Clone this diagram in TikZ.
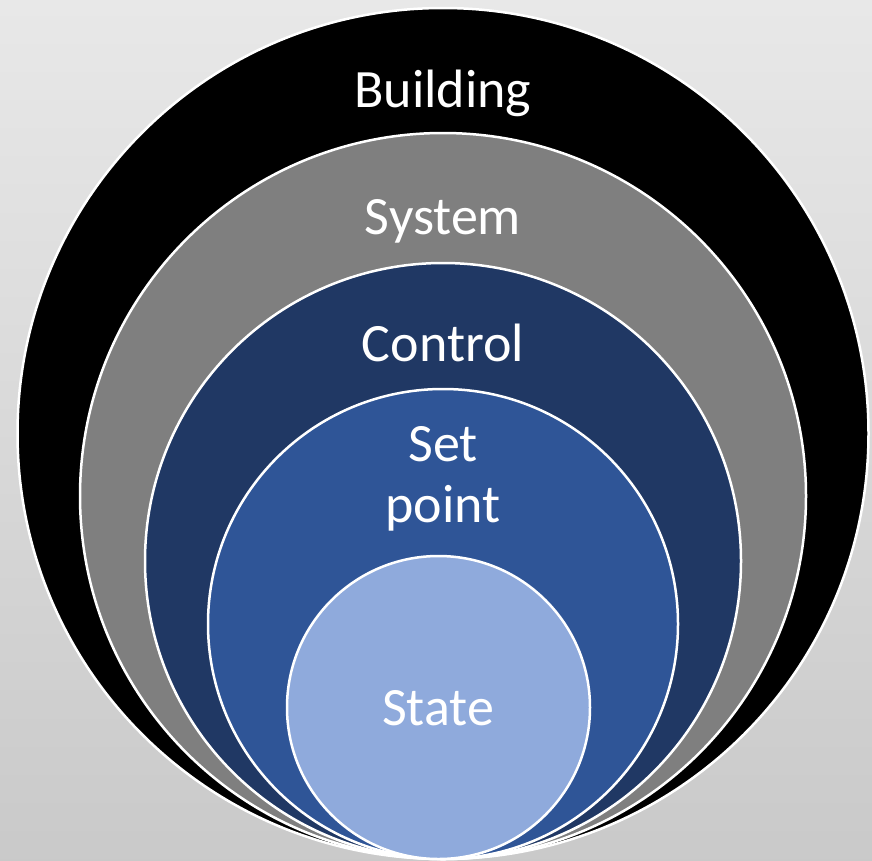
\documentclass[tikz,border=0pt]{standalone}
\usepackage{fontspec}
\setmainfont{Carlito}
\usepackage{tikz}
\usetikzlibrary{shapes,positioning}
\usepackage{xcolor}
\definecolor{sysgrey}{HTML}{7F7F7F}
\definecolor{ctrlblue}{HTML}{203864}
\definecolor{spblue}{HTML}{2F5597}
\definecolor{stateblue}{HTML}{8FAADC}
\tikzstyle{ring} = [circle, draw=white, line width=2.5pt, inner sep=0pt]
\tikzstyle{lbl} = [text=white, anchor=base, align=center, font=\fontsize{54}{61}\selectfont]

\begin{document}
\begin{tikzpicture}[x=1pt, y=-1pt]
    % Background
    \useasboundingbox (0,0) rectangle (872,860);
    \shade[top color=black!9, bottom color=black!21] (0,0) rectangle (872,860);
    % Rings
    \node (building) [ring, fill=black, minimum size=851pt] at (443,433.5) {};
    \node (system) [ring, fill=sysgrey, minimum size=726pt] at (443,496) {};
    \node (control) [ring, fill=ctrlblue, minimum size=596pt] at (443,561) {};
    \node (setpoint) [ring, fill=spblue, minimum size=470pt] at (443,624) {};
    \node (state) [ring, fill=stateblue, minimum size=303pt] at (438.5,707.5) {};
    % Labels
    \node (buildinglbl) [lbl] at (443,107) {Building};
    \node (systemlbl) [lbl] at (443,234) {System};
    \node (controllbl) [lbl] at (443,361) {Control};
    \node (setpointlbl) [lbl] at (443,522) {Set\\point};
    \node (statelbl) [lbl] at (438,725) {State};
\end{tikzpicture}
\end{document}
